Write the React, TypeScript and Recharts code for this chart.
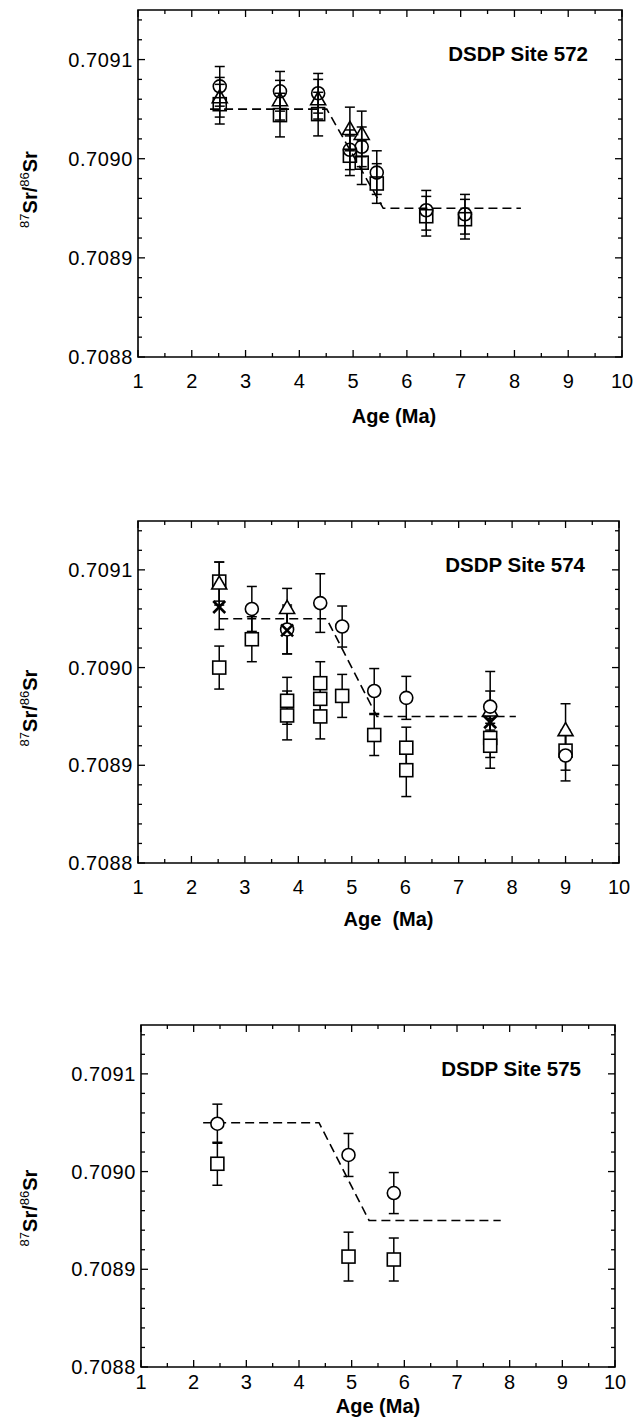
import React from "react";
import { ScatterChart, Scatter, XAxis, YAxis, ErrorBar, ReferenceArea } from "recharts";

const FONT = '"Liberation Sans", Arial, Helvetica, sans-serif';

const AGE_TICKS = [1, 1.5, 2, 2.5, 3, 3.5, 4, 4.5, 5, 5.5, 6, 6.5, 7, 7.5, 8, 8.5, 9, 9.5, 10];
const SR_TICKS = [
  0.7088, 0.70882, 0.70884, 0.70886, 0.70888, 0.7089, 0.70892, 0.70894, 0.70896,
  0.70898, 0.709, 0.70902, 0.70904, 0.70906, 0.70908, 0.7091, 0.70912, 0.70914,
];
const AGE_DOMAIN = [1, 10];
const SR_DOMAIN = [0.7088, 0.70915];

// DSDP Site 572
const circles572 = [
  { age: 2.52, sr: 0.709073, err: 0.00002 },
  { age: 3.64, sr: 0.709068, err: 0.00002 },
  { age: 4.35, sr: 0.709066, err: 0.00002 },
  { age: 4.94, sr: 0.709009, err: 0.00002 },
  { age: 5.16, sr: 0.709012, err: 0.00002 },
  { age: 5.44, sr: 0.708986, err: 0.000022 },
  { age: 6.36, sr: 0.708948, err: 0.00002 },
  { age: 7.08, sr: 0.708944, err: 0.00002 },
];
const triangles572 = [
  { age: 2.52, sr: 0.709062, err: 0.00002 },
  { age: 3.64, sr: 0.709059, err: 0.00002 },
  { age: 4.35, sr: 0.70906, err: 0.00002 },
  { age: 4.94, sr: 0.70903, err: 0.000022 },
  { age: 5.16, sr: 0.709025, err: 0.000023 },
];
const squares572 = [
  { age: 2.52, sr: 0.709055, err: 0.00002 },
  { age: 3.64, sr: 0.709044, err: 0.000022 },
  { age: 4.35, sr: 0.709045, err: 0.000022 },
  { age: 4.94, sr: 0.709003, err: 0.00002 },
  { age: 5.16, sr: 0.708996, err: 0.000022 },
  { age: 5.44, sr: 0.708975, err: 0.00002 },
  { age: 6.36, sr: 0.708942, err: 0.00002 },
  { age: 7.08, sr: 0.708939, err: 0.00002 },
];
const trend572 = [
  { age: 2.34, sr: 0.70905 },
  { age: 4.51, sr: 0.70905 },
  { age: 5.56, sr: 0.70895 },
  { age: 8.12, sr: 0.70895 },
];

// DSDP Site 574
const circles574 = [
  { age: 3.13, sr: 0.70906, err: 0.000023 },
  { age: 3.79, sr: 0.709039, err: 0.000025 },
  { age: 4.41, sr: 0.709066, err: 0.00003 },
  { age: 4.82, sr: 0.709042, err: 0.000021 },
  { age: 5.42, sr: 0.708976, err: 0.000023 },
  { age: 6.02, sr: 0.708969, err: 0.000022 },
  { age: 7.59, sr: 0.70896, err: 0.000036 },
  { age: 9.0, sr: 0.70891, err: 0.000026 },
];
const triangles574 = [
  { age: 2.52, sr: 0.709086, err: 0.000022 },
  { age: 3.79, sr: 0.709061, err: 0.00002 },
  { age: 7.59, sr: 0.708956, err: 0.00002 },
  { age: 9.0, sr: 0.708936, err: 0.000027 },
];
const squares574 = [
  { age: 2.52, sr: 0.709088, err: 0.00002 },
  { age: 2.52, sr: 0.709, err: 0.000022 },
  { age: 3.13, sr: 0.709029, err: 0.000023 },
  { age: 3.79, sr: 0.708966, err: 0.000024 },
  { age: 3.79, sr: 0.708951, err: 0.000025 },
  { age: 4.41, sr: 0.708984, err: 0.000022 },
  { age: 4.41, sr: 0.708968, err: 0.00002 },
  { age: 4.41, sr: 0.70895, err: 0.000023 },
  { age: 4.82, sr: 0.708971, err: 0.000022 },
  { age: 5.42, sr: 0.708931, err: 0.000021 },
  { age: 6.02, sr: 0.708918, err: 0.000021 },
  { age: 6.02, sr: 0.708895, err: 0.000027 },
  { age: 7.59, sr: 0.708928, err: 0.00002 },
  { age: 7.59, sr: 0.70892, err: 0.000023 },
  { age: 9.0, sr: 0.708915, err: 0.00002 },
];
const crosses574 = [
  { age: 2.52, sr: 0.709062, err: 0.000023 },
  { age: 3.79, sr: 0.709038, err: 0.000024 },
  { age: 7.59, sr: 0.708944, err: 0.00002 },
];
const trend574 = [
  { age: 2.52, sr: 0.70905 },
  { age: 4.53, sr: 0.70905 },
  { age: 5.47, sr: 0.70895 },
  { age: 8.07, sr: 0.70895 },
];

// DSDP Site 575
const circles575 = [
  { age: 2.45, sr: 0.709049, err: 0.00002 },
  { age: 4.94, sr: 0.709017, err: 0.000022 },
  { age: 5.8, sr: 0.708978, err: 0.000021 },
];
const squares575 = [
  { age: 2.45, sr: 0.709008, err: 0.000022 },
  { age: 4.94, sr: 0.708913, err: 0.000025 },
  { age: 5.8, sr: 0.70891, err: 0.000022 },
];
const trend575 = [
  { age: 2.18, sr: 0.70905 },
  { age: 4.38, sr: 0.70905 },
  { age: 5.33, sr: 0.70895 },
  { age: 7.83, sr: 0.70895 },
];

const isMajorSr = (v: number) => Math.abs(v * 1e4 - Math.round(v * 1e4)) < 1e-6;

const OpenCircle = ({ cx, cy, fill }: any) => (
  <circle cx={cx} cy={cy} r={6.5} fill={fill} stroke="#000" strokeWidth={1.6} />
);
const OpenSquare = ({ cx, cy, fill }: any) => (
  <rect x={cx - 6.5} y={cy - 6.5} width={13} height={13} fill={fill} stroke="#000" strokeWidth={1.6} />
);
const OpenTriangle = ({ cx, cy, fill }: any) => (
  <polygon
    points={`${cx},${cy - 7.5} ${cx - 7.5},${cy + 5.5} ${cx + 7.5},${cy + 5.5}`}
    fill={fill}
    stroke="#000"
    strokeWidth={1.6}
  />
);
const Cross = ({ cx, cy }: any) => (
  <g stroke="#000" strokeWidth={2.6}>
    <line x1={cx - 6} y1={cy - 6} x2={cx + 6} y2={cy + 6} />
    <line x1={cx - 6} y1={cy + 6} x2={cx + 6} y2={cy - 6} />
  </g>
);
const NoDot = () => <g />;

const SrLabel = ({ viewBox, dy }: any) => {
  const cx = 37;
  const cy = viewBox.y + viewBox.height / 2 + dy;
  return (
    <text
      transform={`rotate(-90 ${cx} ${cy})`}
      x={cx}
      y={cy}
      textAnchor="middle"
      fontFamily={FONT}
      fontSize={20}
      fontWeight="bold"
      fill="#000"
    >
      <tspan fontSize={13} fontWeight="normal" dy={-8}>87</tspan>
      <tspan dy={8}>Sr/</tspan>
      <tspan fontSize={13} fontWeight="normal" dy={-8}>86</tspan>
      <tspan dy={8}>Sr</tspan>
    </text>
  );
};

const AgeLabel = ({ viewBox, dx, dy, text }: any) => (
  <text
    x={viewBox.x + viewBox.width / 2 + dx}
    y={viewBox.y + dy}
    textAnchor="middle"
    fontFamily={FONT}
    fontSize={20}
    fontWeight="bold"
    fill="#000"
    style={{ whiteSpace: "pre" }}
  >
    {text}
  </text>
);

const SiteLabel = ({ viewBox, text }: any) => (
  <text
    x={viewBox.x + viewBox.width - 34}
    y={viewBox.y + 51}
    textAnchor="end"
    fontFamily={FONT}
    fontSize={20.5}
    fontWeight="bold"
    fill="#000"
  >
    {text}
  </text>
);

function SrPanel({ site, ageTitle, circles, triangles, squares, crosses, trend, layout, fill }: any) {
  const { top, plotLeft, plotRight, plotHeight, tickDy, titleDx, titleDy, labelDy } = layout;
  const marginTop = 10;
  const height = marginTop + plotHeight + 75;

  const AgeTick = ({ x, y, payload }: any) => {
    const major = Number.isInteger(payload.value);
    const len = major ? 7 : 4;
    return (
      <g>
        <line x1={x} x2={x} y1={y} y2={y - len} stroke="#000" strokeWidth={1.3} />
        <line x1={x} x2={x} y1={marginTop} y2={marginTop + len} stroke="#000" strokeWidth={1.3} />
        {major && (
          <text x={x} y={y + tickDy} textAnchor="middle" fontFamily={FONT} fontSize={20} fill="#000">
            {payload.value}
          </text>
        )}
      </g>
    );
  };

  const SrTick = ({ x, y, payload }: any) => {
    const major = isMajorSr(payload.value);
    const len = major ? 7 : 4;
    return (
      <g>
        <line x1={x} x2={x + len} y1={y} y2={y} stroke="#000" strokeWidth={1.3} />
        <line x1={plotRight} x2={plotRight - len} y1={y} y2={y} stroke="#000" strokeWidth={1.3} />
        {major && (
          <text x={x - 5} y={y + 7} textAnchor="end" fontFamily={FONT} fontSize={20} letterSpacing={0.6} fill="#000">
            {payload.value.toFixed(4)}
          </text>
        )}
      </g>
    );
  };

  return (
    <div style={{ position: "absolute", left: 0, top }}>
      <ScatterChart
        width={635}
        height={height}
        margin={{ top: marginTop, right: 635 - plotRight, bottom: 0, left: 0 }}
      >
        <XAxis
          type="number"
          dataKey="age"
          domain={AGE_DOMAIN}
          ticks={AGE_TICKS}
          interval={0}
          allowDataOverflow
          axisLine={false}
          tickLine={false}
          tickSize={0}
          tickMargin={0}
          height={75}
          tick={<AgeTick />}
          label={<AgeLabel dx={titleDx} dy={titleDy} text={ageTitle} />}
        />
        <YAxis
          type="number"
          dataKey="sr"
          domain={SR_DOMAIN}
          ticks={SR_TICKS}
          interval={0}
          allowDataOverflow
          axisLine={false}
          tickLine={false}
          tickSize={0}
          tickMargin={0}
          width={plotLeft}
          tick={<SrTick />}
          label={<SrLabel dy={labelDy} />}
        />
        <ReferenceArea
          x1={AGE_DOMAIN[0]}
          x2={AGE_DOMAIN[1]}
          y1={SR_DOMAIN[0]}
          y2={SR_DOMAIN[1]}
          fill="none"
          stroke="#000"
          strokeWidth={1.6}
          label={<SiteLabel text={site} />}
        />
        <Scatter
          data={trend}
          line={{ stroke: "#000", strokeWidth: 1.6, strokeDasharray: "9 5" }}
          lineType="joint"
          shape={<NoDot />}
          isAnimationActive={false}
        />
        {squares && (
          <Scatter data={squares} shape={<OpenSquare fill={fill} />} isAnimationActive={false}>
            <ErrorBar dataKey="err" direction="y" width={5} stroke="#000" strokeWidth={1.5} />
          </Scatter>
        )}
        {triangles && (
          <Scatter data={triangles} shape={<OpenTriangle fill={fill} />} isAnimationActive={false}>
            <ErrorBar dataKey="err" direction="y" width={5} stroke="#000" strokeWidth={1.5} />
          </Scatter>
        )}
        {circles && (
          <Scatter data={circles} shape={<OpenCircle fill={fill} />} isAnimationActive={false}>
            <ErrorBar dataKey="err" direction="y" width={5} stroke="#000" strokeWidth={1.5} />
          </Scatter>
        )}
        {crosses && (
          <Scatter data={crosses} shape={<Cross />} isAnimationActive={false}>
            <ErrorBar dataKey="err" direction="y" width={5} stroke="#000" strokeWidth={1.5} />
          </Scatter>
        )}
      </ScatterChart>
    </div>
  );
}

export default function App() {
  return (
    <div
      style={{
        position: "absolute",
        left: 0,
        top: 0,
        width: 635,
        height: 1420,
        background: "#fff",
        overflow: "hidden",
      }}
    >
      <SrPanel
        site="DSDP Site 572"
        ageTitle="Age (Ma)"
        circles={circles572}
        triangles={triangles572}
        squares={squares572}
        trend={trend572}
        fill="none"
        layout={{ top: 0, plotLeft: 138, plotRight: 622, plotHeight: 347, tickDy: 31, titleDx: 14, titleDy: 66, labelDy: 6 }}
      />
      <SrPanel
        site="DSDP Site 574"
        ageTitle="Age  (Ma)"
        circles={circles574}
        triangles={triangles574}
        squares={squares574}
        crosses={crosses574}
        trend={trend574}
        fill="#fff"
        layout={{ top: 511, plotLeft: 138, plotRight: 619, plotHeight: 342, tickDy: 31, titleDx: 10, titleDy: 63, labelDy: 16 }}
      />
      <SrPanel
        site="DSDP Site 575"
        ageTitle="Age (Ma)"
        circles={circles575}
        squares={squares575}
        trend={trend575}
        fill="#fff"
        layout={{ top: 1015, plotLeft: 141, plotRight: 615, plotHeight: 342, tickDy: 22, titleDx: 0, titleDy: 46, labelDy: 12 }}
      />
    </div>
  );
}
